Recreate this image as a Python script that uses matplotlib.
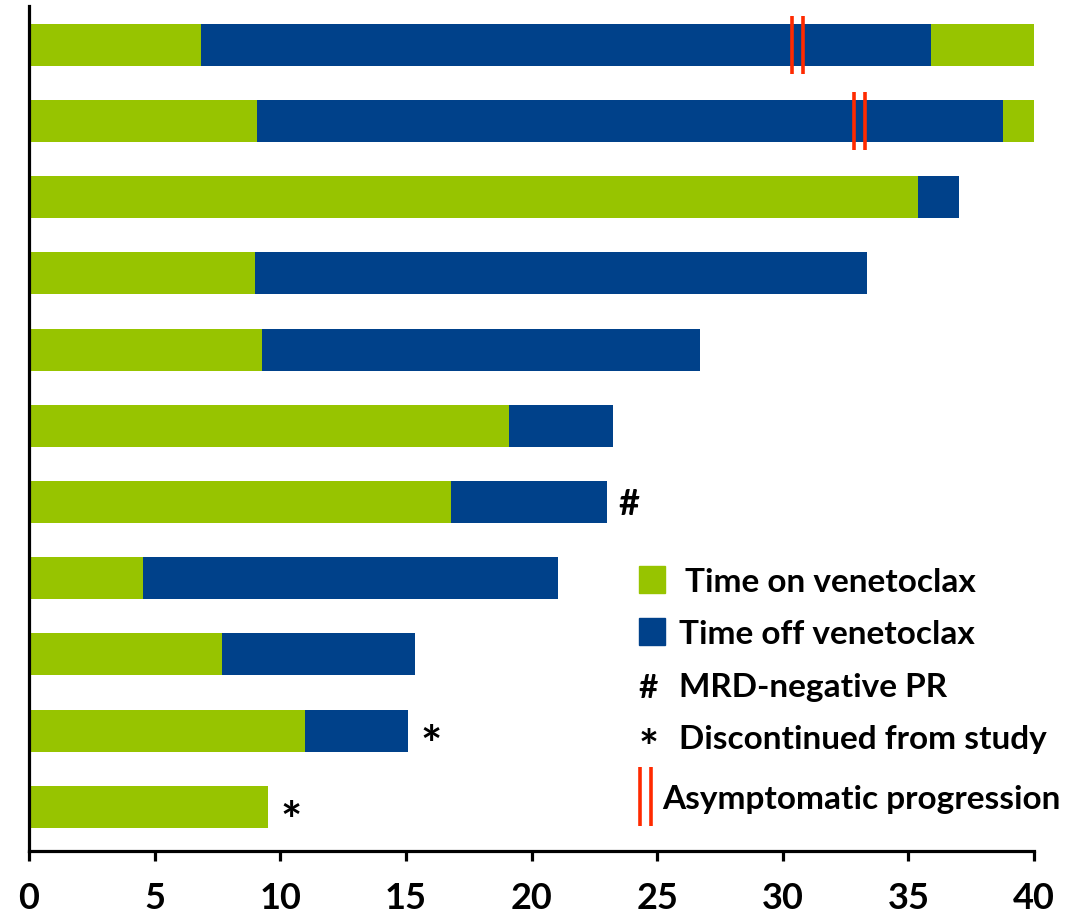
import matplotlib
matplotlib.use("Agg")
import matplotlib.pyplot as plt

plt.rcParams['font.family'] = ['Lato', 'DejaVu Sans']

# Swimmer data (months), one row per patient, top to bottom
on_end = [6.85, 9.07, 35.4, 9.0, 9.27, 19.1, 16.8, 4.54, 7.68, 10.98, 9.5]
off_end = [35.9, 38.77, 37.0, 33.35, 26.7, 23.25, 23.0, 21.05, 15.35, 15.1, 9.5]
retreat_end = [40.0, 40.0, 37.0, 33.35, 26.7, 23.25, 23.0, 21.05, 15.35, 15.1, 9.5]
progression = [30.6, 33.05, None, None, None, None, None, None, None, None, None]
symbols = ['', '', '', '', '', '', '#', '', '', '*', '*']
xticks = [0, 5, 10, 15, 20, 25, 30, 35, 40]

GREEN = '#97C400'
BLUE = '#00418A'
RED = '#FF2A00'

fig = plt.figure(figsize=(10.91, 9.15), dpi=100)
ax = fig.add_axes([29 / 1091, 64 / 915, 1005 / 1091, 845 / 915])

rows = list(range(len(on_end)))
h = 0.55
off_dur = [b - a for a, b in zip(on_end, off_end)]
re_dur = [b - a for a, b in zip(off_end, retreat_end)]

ax.barh(rows, on_end, height=h, color=GREEN, zorder=2)
ax.barh(rows, off_dur, left=on_end, height=h, color=BLUE, zorder=2)
ax.barh(rows, re_dur, left=off_end, height=h, color=GREEN, zorder=2)

# asymptomatic progression: double red tick
for r, p in zip(rows, progression):
    if p is not None:
        for dx in (-0.22, 0.22):
            ax.plot([p + dx, p + dx], [r - 0.38, r + 0.38], color=RED, lw=2.6,
                    solid_capstyle='butt', zorder=3)

# end-of-bar symbols
for r, s, e in zip(rows, symbols, retreat_end):
    if s == '#':
        ax.text(e + 0.45, r + 0.03, s, fontsize=26, fontweight='bold',
                ha='left', va='center', zorder=4)
    elif s == '*':
        ax.text(e + 0.5, r + 0.22, s, fontsize=36, fontweight='bold',
                ha='left', va='center', zorder=4)

ax.set_xlim(0, 40)
ax.set_ylim(10.58, -0.51)
ax.set_xticks(xticks)
ax.set_xticklabels([str(t) for t in xticks], fontsize=26, fontweight='bold')
ax.set_yticks([])
for s in ('top', 'right'):
    ax.spines[s].set_visible(False)
for s in ('left', 'bottom'):
    ax.spines[s].set_linewidth(2.3)
ax.tick_params(axis='x', direction='out', length=7, width=2.3, pad=15)

# legend drawn in axes-fraction coordinates
def fx(px):
    return (px - 29) / 1005

def fy(py):
    return (851 - py) / 845

tr = ax.transAxes
ax.add_patch(plt.Rectangle((fx(639), fy(593)), 26 / 1005, 27 / 845, transform=tr,
                           color=GREEN, clip_on=False))
ax.add_patch(plt.Rectangle((fx(639), fy(645)), 26 / 1005, 27 / 845, transform=tr,
                           color=BLUE, clip_on=False))
lab_kw = dict(fontsize=24, fontweight='bold', va='center', ha='left', transform=tr)
ax.text(fx(685), fy(582), 'Time on venetoclax', **lab_kw)
ax.text(fx(679), fy(634), 'Time off venetoclax', **lab_kw)
ax.text(fx(638), fy(688), '#', **lab_kw)
ax.text(fx(679), fy(688), 'MRD-negative PR', **lab_kw)
ax.text(fx(639), fy(750), '*', fontsize=34, fontweight='bold', va='center', ha='left',
        transform=tr)
ax.text(fx(679), fy(740), 'Discontinued from study', **lab_kw)
for px in (640, 651):
    ax.plot([fx(px), fx(px)], [fy(767), fy(826)], transform=tr, color=RED, lw=2.6,
            solid_capstyle='butt', clip_on=False)
ax.text(fx(662), fy(800), 'Asymptomatic progression', **lab_kw)

fig.savefig('out.png', dpi=100)
